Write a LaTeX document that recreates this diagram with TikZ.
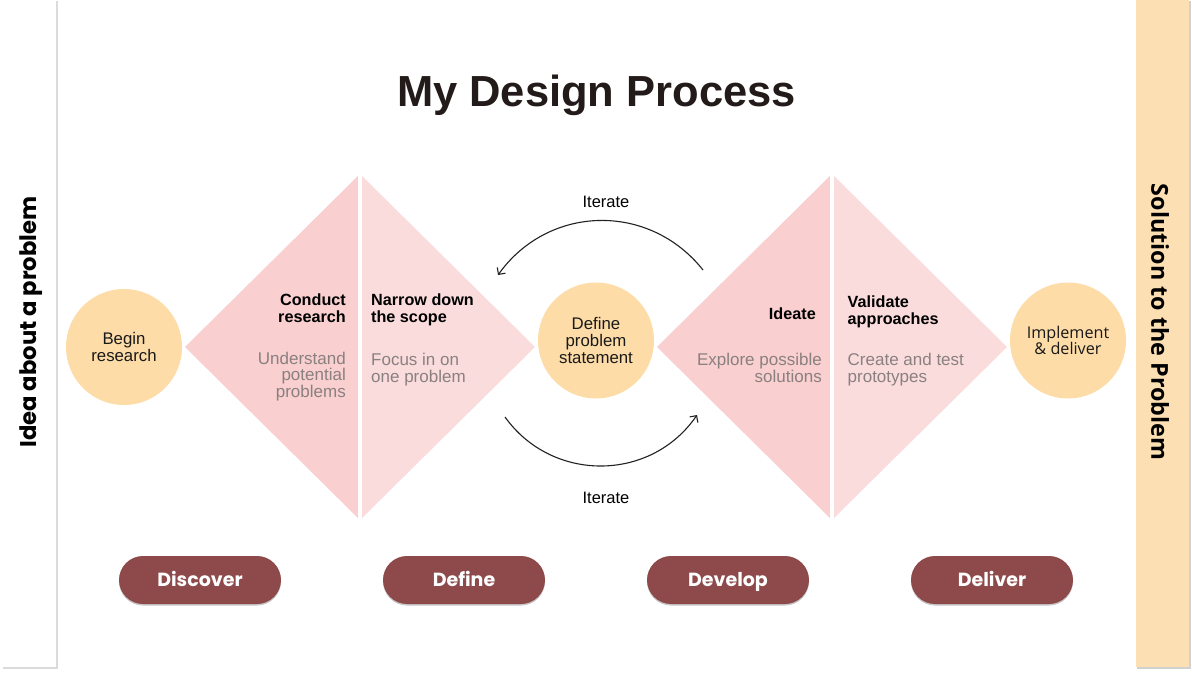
\documentclass[tikz,border=0pt]{standalone}
\usepackage{fontspec}
\setmainfont{Liberation Sans}
\newfontfamily\popfont{Poppins}
\newfontfamily\osfont{Open Sans}
\usetikzlibrary{arrows.meta}
\definecolor{pinkA}{HTML}{F9CFD0}
\definecolor{pinkB}{HTML}{FADCDD}
\definecolor{peach}{HTML}{FDDCA8}
\definecolor{barpeach}{HTML}{FDDFB4}
\definecolor{pillred}{HTML}{8E4A4A}
\definecolor{titleink}{HTML}{231A1A}
\definecolor{grayink}{HTML}{8A8080}
\definecolor{arcink}{HTML}{222222}
\begin{document}
\begin{tikzpicture}[x=1pt,y=-1pt,
  circ/.style={circle, fill=peach, minimum size=116pt, inner sep=0pt, align=center, text=black!90,
    font=\fontsize{16.8}{16.8}\selectfont},
  head/.style={font=\bfseries\fontsize{16.2}{17}\selectfont, inner sep=0pt, text=black},
  sub/.style={font=\fontsize{17}{16.8}\selectfont, inner sep=0pt, text=grayink},
  pill/.style={rounded corners=24pt, fill=pillred, minimum width=162pt, minimum height=48pt, inner sep=0pt,
    text=white, font=\popfont\bfseries\fontsize{19}{20}\selectfont, text height=13.4pt, text depth=0pt,
    preaction={fill=black!22, transform canvas={yshift=-1.5pt}}},
  iter/.style={font=\fontsize{16.5}{17}\selectfont, inner sep=0pt, text=black},
  loop/.style={draw=arcink, line width=1.1pt, -{Straight Barb[length=5pt,width=10pt]}}
]
\useasboundingbox (0,0) rectangle (1192,693);
\fill[white] (0,0) rectangle (1192,693);

% side bars
\fill[black!14] (3,1) rectangle (58,669);
\fill[white] (2,0) rectangle (56,667);
\fill[black!18] (1137,1) rectangle (1191,669);
\fill[barpeach] (1136,0) rectangle (1189,667);
\node[rotate=90, inner sep=0pt, font=\popfont\bfseries\fontsize{22.7}{24}\selectfont, text=black] (idea) at (31,322) {Idea about a problem};
\node[rotate=-90, inner sep=0pt, font=\osfont\bfseries\fontsize{23.3}{24}\selectfont, text=black] (sol) at (1160,322) {Solution to the Problem};

% title
\node[inner sep=0pt, anchor=base, font=\bfseries\fontsize{43.5}{46}\selectfont, text=titleink] (title) at (596.5,106.5) {My Design Process};

% left diamond
\coordinate (dlL) at (185,347);
\coordinate (dlT) at (360,174);
\coordinate (dlR) at (535,347);
\coordinate (dlB) at (360,520);
\fill[pinkA] (dlL) -- (dlT) -- (dlB) -- cycle;
\fill[pinkB] (dlT) -- (dlR) -- (dlB) -- cycle;
\draw[white, line width=4pt] (dlT) -- (dlB);

% right diamond
\coordinate (drL) at (657,347);
\coordinate (drT) at (832,174);
\coordinate (drR) at (1007,347);
\coordinate (drB) at (832,520);
\fill[pinkA] (drL) -- (drT) -- (drB) -- cycle;
\fill[pinkB] (drT) -- (drR) -- (drB) -- cycle;
\draw[white, line width=4pt] (drT) -- (drB);

% diamond texts
\node[head, anchor=north east, align=right] (t1) at (346,293.3) {Conduct\\research};
\node[sub, anchor=north east, align=right] (s1) at (346,351.5) {Understand\\potential\\problems};
\node[head, anchor=north west, align=left] (t2) at (371,293.3) {Narrow down\\the scope};
\node[sub, anchor=north west, align=left] (s2) at (371,353) {Focus in on\\one problem};
\node[head, anchor=north east, align=right] (t3) at (816,307.7) {Ideate};
\node[sub, anchor=north east, align=right] (s3) at (822,353) {Explore possible\\solutions};
\node[head, anchor=north west, align=left] (t4) at (847.5,296) {Validate\\approaches};
\node[sub, anchor=north west, align=left] (s4) at (847.5,353) {Create and test\\prototypes};

% circles
\node[circ] (begin) at (124,347) {Begin\\research};
\node[circ] (define) at (596,340.5) {Define\\problem\\statement};
\node[circ, font=\osfont\fontsize{16.2}{16.7}\selectfont] (impl) at (1068,340.5) {Implement\\[-1pt]\& deliver};

% iterate loops
\coordinate (a1s) at (703,270);
\coordinate (a1e) at (498,275);
\coordinate (a2s) at (505,417);
\coordinate (a2e) at (697,415);
\draw[loop] (a1s) to[bend right=53, looseness=1.08] (a1e);
\draw[loop] (a2s) to[bend right=55, looseness=1.08] (a2e);
\node[iter, anchor=base] (it1) at (606,207.5) {Iterate};
\node[iter, anchor=base] (it2) at (606,503.3) {Iterate};

% phase pills
\node[pill] (p1) at (200,580) {Discover};
\node[pill] (p2) at (464,580) {Define};
\node[pill] (p3) at (728,580) {Develop};
\node[pill] (p4) at (992,580) {Deliver};
\end{tikzpicture}
\end{document}
